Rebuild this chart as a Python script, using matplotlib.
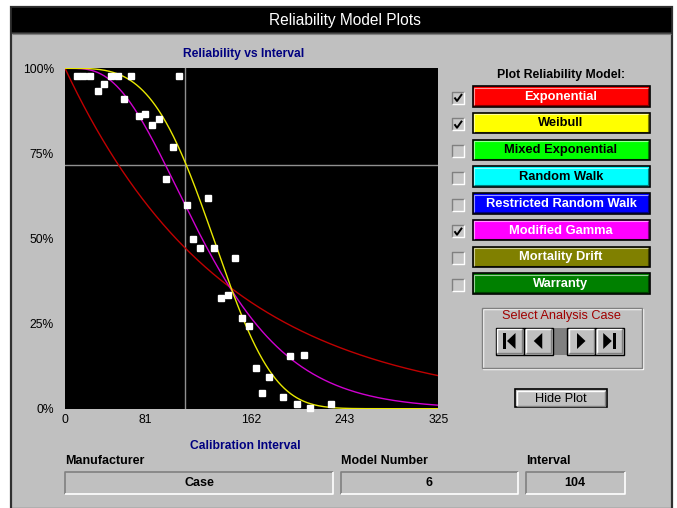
import numpy as np
import matplotlib
matplotlib.use("Agg")
import matplotlib.pyplot as plt
from matplotlib.patches import Rectangle, Polygon
from matplotlib.transforms import ScaledTranslation

plt.rcParams['font.family'] = ['Liberation Sans', 'DejaVu Sans']

# ---------------- data ----------------
interval_max = 325
x_ticks = [0, 81, 162, 243, 325]
x_tick_labels = ['0', '81', '162', '243', '325']
y_ticks = [0, 0.25, 0.5, 0.75, 1.0]
y_tick_labels = ['0%', '25%', '50%', '75%', '100%']

obs_interval = [10.2, 15.7, 22.0, 28.5, 33.7, 39.8, 46.2, 57.8, 51.4, 64.2, 69.4, 75.5,
                81.9, 93.8, 99.6, 88.0, 106.0, 124.0, 111.2, 117.6, 129.5, 148.1, 135.6,
                141.7, 153.6, 159.7, 166.1, 177.7, 171.6, 189.3, 195.7, 207.9, 201.8,
                213.4, 231.4]
obs_reliability = [0.977, 0.977, 0.977, 0.932, 0.953, 0.977, 0.977, 0.977, 0.911, 0.860,
                   0.866, 0.834, 0.850, 0.769, 0.977, 0.676, 0.598, 0.619, 0.499, 0.473,
                   0.473, 0.442, 0.324, 0.333, 0.265, 0.244, 0.120, 0.094, 0.047, 0.035,
                   0.154, 0.159, 0.015, 0.001, 0.015]

# model parameters
exp_lambda = 0.00718
weibull_eta = 143.1
weibull_beta = 3.6
gamma_lambda = 0.0308
reliability_target = 0.717
current_interval = 104

model_names = ['Exponential', 'Weibull', 'Mixed Exponential', 'Random Walk',
               'Restricted Random Walk', 'Modified Gamma', 'Mortality Drift', 'Warranty']
model_checked = [True, True, False, False, False, True, False, False]
btn_colors = ['#ff0000', '#ffff00', '#00ff00', '#00ffff', '#0000ff', '#ff00ff', '#808000', '#008000']
btn_text_colors = ['white', 'black', 'black', 'black', 'white', 'white', 'white', 'white']

manufacturer = 'Case'
model_number = '6'
interval_text = '104'

# ---------------- figure ----------------
W, H = 677, 508
fig = plt.figure(figsize=(W / 100, H / 100), dpi=100)
fig.patch.set_facecolor('white')

bg = fig.add_axes([0, 0, 1, 1])
bg.set_xlim(0, W)
bg.set_ylim(H, 0)
bg.axis('off')

GRAY = '#c0c0c0'
DARK = '#808080'

def rect(x0, y0, x1, y1, **kw):
    bg.add_patch(Rectangle((x0, y0), x1 - x0, y1 - y0, **kw))

def line(xs, ys, **kw):
    bg.plot(xs, ys, solid_capstyle='butt', **kw)

# window
rect(11, 7, 672, 509, facecolor=GRAY, edgecolor='#303030', lw=1.6)
rect(11, 7, 672, 33, facecolor='black', edgecolor='#303030', lw=1.2)
line([12, 671], [33.5, 33.5], color=DARK, lw=0.8)
bg.text(345, 20.5, 'Reliability Model Plots', color='white', fontsize=11.2,
        ha='center', va='center')

# chart titles
bg.text(244, 53.5, 'Reliability vs Interval', color='#000080', fontsize=8.7,
        fontweight='bold', ha='center', va='center')
bg.text(245, 446, 'Calibration Interval', color='#000080', fontsize=8.7,
        fontweight='bold', ha='center', va='center')

# model buttons
bg.text(561, 75, 'Plot Reliability Model:', color='black', fontsize=8.8,
        fontweight='bold', ha='center', va='center')
for i, name in enumerate(model_names):
    y0 = 86 + i * 26.75
    y1 = y0 + 20.5
    # checkbox
    rect(452, y0 + 5.5, 464, y0 + 17.5, facecolor='#c8c8c8', edgecolor='none')
    line([452, 452, 464], [y0 + 17.5, y0 + 5.5, y0 + 5.5], color=DARK, lw=1)
    line([452, 464, 464], [y0 + 17.5, y0 + 17.5, y0 + 5.5], color='white', lw=1)
    if model_checked[i]:
        line([454.5, 457, 462], [y0 + 11.5, y0 + 15, y0 + 8], color='black', lw=1.4)
    # button
    rect(472.5, y0, 649.5, y1, facecolor=btn_colors[i], edgecolor='black', lw=1.2)
    line([474, 474, 648], [y1 - 1.5, y0 + 1.5, y0 + 1.5], color='white', lw=0.8, alpha=0.6)
    line([474, 648, 648], [y1 - 1.5, y1 - 1.5, y0 + 1.5], color='black', lw=0.8, alpha=0.5)
    bg.text(561, (y0 + y1) / 2 + 0.5, name, color=btn_text_colors[i], fontsize=9.3,
            fontweight='bold', ha='center', va='center')

# analysis case group
rect(482.5, 308.5, 643, 369, facecolor='none', edgecolor='white', lw=1)
rect(481.5, 307.5, 642, 368, facecolor='none', edgecolor=DARK, lw=1)
bg.text(561, 315.5, 'Select Analysis Case', color='#a00000', fontsize=9.2,
        ha='center', va='center')
rect(552.5, 327.5, 567, 354.5, facecolor='#808080', edgecolor='none')
nav = [(495.5, 523.5), (524, 552.5), (567, 595), (595, 623.5)]
for k, (a, b) in enumerate(nav):
    rect(a, 327.5, b, 354.5, facecolor=GRAY, edgecolor='black', lw=1)
    line([a + 1.5, a + 1.5, b - 1.5], [353, 329, 329], color='white', lw=1)
    line([a + 1.5, b - 1.5, b - 1.5], [353, 353, 329], color=DARK, lw=1)
    cx = (a + b) / 2
    cy = 341
    if k == 0:
        rect(cx - 6.5, cy - 8, cx - 3.5, cy + 8, facecolor='black', edgecolor='none')
        bg.add_patch(Polygon([[cx + 6, cy - 8], [cx + 6, cy + 8], [cx - 2.5, cy]],
                             closed=True, facecolor='black', edgecolor='none'))
    elif k == 1:
        bg.add_patch(Polygon([[cx + 4, cy - 8], [cx + 4, cy + 8], [cx - 4.5, cy]],
                             closed=True, facecolor='black', edgecolor='none'))
    elif k == 2:
        bg.add_patch(Polygon([[cx - 4, cy - 8], [cx - 4, cy + 8], [cx + 4.5, cy]],
                             closed=True, facecolor='black', edgecolor='none'))
    else:
        bg.add_patch(Polygon([[cx - 6, cy - 8], [cx - 6, cy + 8], [cx + 2.5, cy]],
                             closed=True, facecolor='black', edgecolor='none'))
        rect(cx + 3.5, cy - 8, cx + 6.5, cy + 8, facecolor='black', edgecolor='none')

# hide plot button
rect(515, 389, 606.5, 407, facecolor=GRAY, edgecolor='black', lw=1.2)
line([516.5, 516.5, 605], [405.5, 390.5, 390.5], color='white', lw=1)
line([516.5, 605, 605], [405.5, 405.5, 390.5], color=DARK, lw=1)
bg.text(561, 398.5, 'Hide Plot', color='black', fontsize=9.2, ha='center', va='center')

# bottom fields
fields = [(65, 333, 'Manufacturer', manufacturer),
          (341, 518, 'Model Number', model_number),
          (526, 624.5, 'Interval', interval_text)]
for a, b, lab, val in fields:
    bg.text(a, 461.5, lab, color='black', fontsize=9.0, fontweight='bold',
            ha='left', va='center')
    line([a, a, b], [494, 471.5, 471.5], color=DARK, lw=1.2)
    line([a, b, b], [494, 494, 471.5], color='white', lw=1.2)
    bg.text((a + b) / 2, 483, val, color='black', fontsize=9.0, fontweight='bold',
            ha='center', va='center')

# ---------------- plot ----------------
ax = fig.add_axes([65 / W, 1 - 408.7 / H, 373.5 / W, (408.7 - 68.3) / H])
ax.set_facecolor('black')
ax.set_xlim(0, interval_max)
ax.set_ylim(0, 1)
for s in ax.spines.values():
    s.set_visible(False)

t = np.linspace(0, interval_max, 600)
r_exp = np.exp(-exp_lambda * t)
r_weib = np.exp(-(t / weibull_eta) ** weibull_beta)
x = gamma_lambda * t
r_gam = np.exp(-x) * (1 + x + x ** 2 / 2 + x ** 3 / 6)

ax.axvline(current_interval, color='#909090', lw=1)
ax.axhline(reliability_target, color='#909090', lw=1)
ax.plot(t, r_exp, color='#c00000', lw=1)
ax.plot(t, r_gam, color='#d000d0', lw=1)
ax.plot(t, r_weib, color='#e8e800', lw=1)
ax.plot(obs_interval, obs_reliability, linestyle='none', marker='s', markersize=4.3,
        markerfacecolor='white', markeredgecolor='white', clip_on=False, zorder=5)

ax.set_xticks(x_ticks)
ax.set_xticklabels(x_tick_labels)
ax.set_yticks(y_ticks)
ax.set_yticklabels(y_tick_labels)
ax.tick_params(length=0, labelsize=8.7, colors='black')
ax.tick_params(axis='y', pad=8)
ax.tick_params(axis='x', pad=4)
lbl81 = ax.get_xticklabels()[1]
lbl81.set_transform(lbl81.get_transform() + ScaledTranslation(-0.13, 0, fig.dpi_scale_trans))

fig.savefig('out.png', dpi=100, facecolor='white')
